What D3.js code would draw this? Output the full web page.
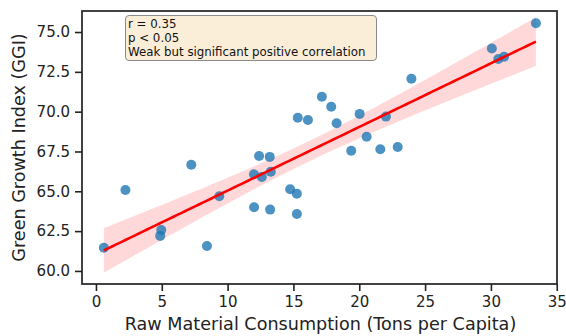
<!DOCTYPE html>
<html>
<head>
<meta charset="utf-8">
<script src="https://cdn.jsdelivr.net/npm/d3@7"></script>
<style>
  body { margin: 0; background: #fff; }
  svg { display: block; font-family: "DejaVu Sans", sans-serif; }
</style>
</head>
<body>
<svg id="chart" width="566" height="336"></svg>
<script>
// Raw Material Consumption (tons per capita)
const rawMaterial = [0.6, 2.24, 4.88, 4.96, 7.24, 8.43, 9.37, 12.39, 13.2, 12.0, 12.6, 13.28,
  14.75, 15.26, 12.01, 13.23, 15.26, 15.33, 16.1, 17.16, 17.87, 18.28, 20.03, 19.39,
  20.56, 21.6, 22.03, 22.92, 23.96, 30.07, 30.56, 31.0, 33.42];
// Green Growth Index
const ggi = [61.46, 65.08, 62.2, 62.57, 66.67, 61.57, 64.69, 67.22, 67.16, 66.07, 65.9, 66.23,
  65.13, 64.85, 64.0, 63.85, 63.58, 69.62, 69.48, 70.94, 70.31, 69.27, 69.86, 67.55,
  68.43, 67.64, 69.69, 67.78, 72.07, 73.96, 73.31, 73.45, 75.55];
const xTicks = [0, 5, 10, 15, 20, 25, 30, 35];
const yTicks = [60.0, 62.5, 65.0, 67.5, 70.0, 72.5, 75.0];
const annotationLines = ["r = 0.35", "p < 0.05", "Weak but significant positive correlation"];
const xLabel = "Raw Material Consumption (Tons per Capita)";
const yLabel = "Green Growth Index (GGI)";

const svg = d3.select("#chart");
const m = { left: 82, top: 11, right: 557, bottom: 284 };

const x = d3.scaleLinear().domain([-1.06, 35.02]).range([m.left, m.right]);
const y = d3.scaleLinear().domain([59.18, 76.32]).range([m.bottom, m.top]);

// regression (least squares) with 95% CI
const n = rawMaterial.length;
const mx = d3.mean(rawMaterial), my = d3.mean(ggi);
let sxx = 0, sxy = 0;
for (let i = 0; i < n; i++) { sxx += (rawMaterial[i]-mx)**2; sxy += (rawMaterial[i]-mx)*(ggi[i]-my); }
const slope = sxy / sxx, intercept = my - slope * mx;
let sse = 0;
for (let i = 0; i < n; i++) sse += (ggi[i] - (intercept + slope*rawMaterial[i]))**2;
const s = Math.sqrt(sse / (n - 2));
const tval = 2.04;
const [xmin, xmax] = d3.extent(rawMaterial);
const grid = d3.range(0, 101).map(i => xmin + (xmax - xmin) * i / 100);
const band = grid.map(xv => {
  const yh = intercept + slope * xv;
  const se = s * Math.sqrt(1/n + (xv-mx)**2 / sxx);
  return { x: xv, y: yh, lo: yh - tval*se, hi: yh + tval*se };
});

// CI band
svg.append("path")
  .datum(band)
  .attr("d", d3.area().x(d => x(d.x)).y0(d => y(d.lo)).y1(d => y(d.hi)))
  .attr("fill", "red").attr("fill-opacity", 0.15);

// points
svg.append("g").selectAll("circle")
  .data(rawMaterial.map((v, i) => [v, ggi[i]]))
  .join("circle")
  .attr("cx", d => x(d[0])).attr("cy", d => y(d[1])).attr("r", 5)
  .attr("fill", "#1f77b4").attr("fill-opacity", 0.8);

// regression line
svg.append("path")
  .datum(band)
  .attr("d", d3.line().x(d => x(d.x)).y(d => y(d.y)))
  .attr("fill", "none").attr("stroke", "red").attr("stroke-width", 2.6);

// axes
const xAxis = svg.append("g").attr("transform", `translate(0,${m.bottom})`)
  .call(d3.axisBottom(x).tickValues(xTicks).tickFormat(d3.format("d")).tickSize(7).tickPadding(5));
const yAxis = svg.append("g").attr("transform", `translate(${m.left},0)`)
  .call(d3.axisLeft(y).tickValues(yTicks).tickFormat(d3.format(".1f")).tickSize(7).tickPadding(5));
[xAxis, yAxis].forEach(g => {
  g.select(".domain").remove();
  g.selectAll(".tick line").attr("stroke", "#222").attr("stroke-width", 1.6);
  g.selectAll(".tick text").attr("fill", "#222").style("font-size", "15px").style("font-family", "DejaVu Sans");
});

// spines
svg.append("rect")
  .attr("x", m.left).attr("y", m.top)
  .attr("width", m.right - m.left).attr("height", m.bottom - m.top)
  .attr("fill", "none").attr("stroke", "#222").attr("stroke-width", 1.7);

// labels
svg.append("text").attr("x", (m.left + m.right) / 2 + 1).attr("y", 330)
  .attr("text-anchor", "middle").attr("fill", "#222").style("font-size", "17.6px").text(xLabel);
svg.append("text").attr("transform", `translate(25,${(m.top + m.bottom)/2}) rotate(-90)`)
  .attr("text-anchor", "middle").attr("fill", "#222").style("font-size", "17.6px").text(yLabel);

// annotation box
const ann = svg.append("g");
ann.append("rect").attr("x", 125.5).attr("y", 15.5).attr("width", 251).attr("height", 45)
  .attr("rx", 3.5).attr("fill", "rgb(250,238,217)").attr("stroke", "#8a8a8a").attr("stroke-width", 1);
ann.selectAll("text").data(annotationLines).join("text")
  .attr("x", 128).attr("y", (d, i) => 28.2 + i * 13.9)
  .attr("fill", "#111").style("font-size", "11.8px").text(d => d);
</script>
</body>
</html>
